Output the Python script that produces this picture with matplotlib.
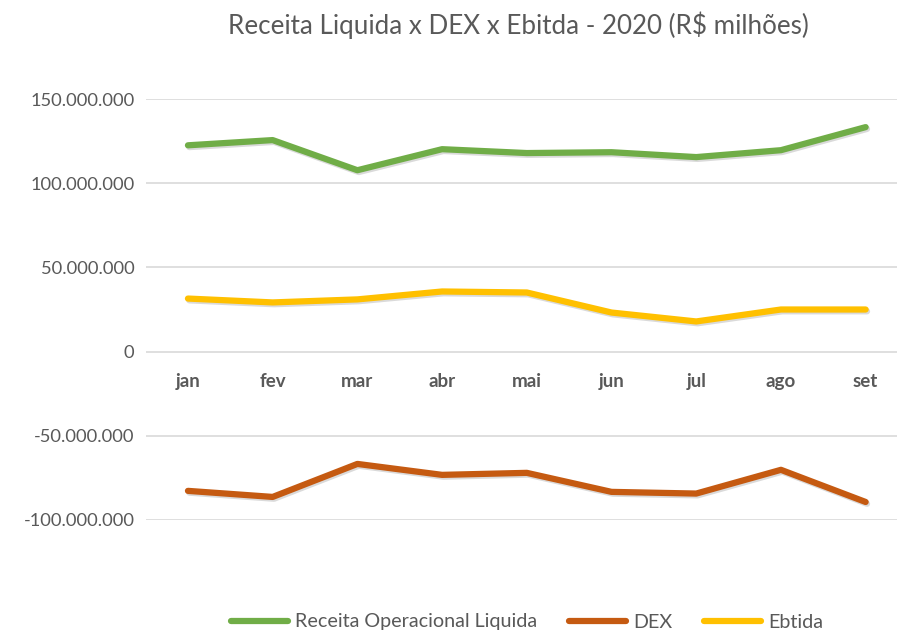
import matplotlib
matplotlib.use("Agg")
import matplotlib.pyplot as plt
import matplotlib.patheffects as pe
from matplotlib.lines import Line2D
from matplotlib.ticker import FuncFormatter

# dados (R$)
meses = ["jan", "fev", "mar", "abr", "mai", "jun", "jul", "ago", "set"]
receita = [122.5e6, 125.6e6, 107.7e6, 120.2e6, 117.9e6, 118.4e6, 115.5e6, 119.6e6, 133.3e6]
dex = [-82.7e6, -86.3e6, -66.7e6, -73.2e6, -72.0e6, -83.3e6, -84.3e6, -70.2e6, -89.3e6]
ebtida = [31.5e6, 29.2e6, 31.0e6, 35.7e6, 35.1e6, 23.2e6, 17.9e6, 25.0e6, 25.0e6]
nomes = ['Receita Operacional Liquida', 'DEX', 'Ebtida']
cores = ['#70AD47', '#C55A11', '#FFC000']

plt.rcParams['font.family'] = ['Lato', 'DejaVu Sans']
cinza = '#595959'

fig = plt.figure(figsize=(8.97, 6.34), dpi=100)
ax = fig.add_axes([145.6/897, 1-520/634, (908-145.6)/897, 421/634])

sombra = [pe.SimpleLineShadow(offset=(1.0, -1.3), alpha=0.18, shadow_color='#333333'), pe.Normal()]
x = range(len(meses))
for serie, cor in zip([receita, dex, ebtida], cores):
    ax.plot(x, serie, color=cor, lw=4.5, solid_capstyle='round', solid_joinstyle='round',
            path_effects=sombra, zorder=3)

ax.set_xlim(-0.5, len(meses)-0.5)
ax.set_ylim(-100e6, 150e6)
ax.set_yticks([-100e6, -50e6, 0, 50e6, 100e6, 150e6])
ax.yaxis.set_major_formatter(FuncFormatter(lambda v, p: f"{v:,.0f}".replace(",", ".")))
ax.tick_params(axis='y', length=0, pad=8, labelsize=13.2, labelcolor=cinza)
ax.set_xticks([])
ax.grid(axis='y', color='#d9d9d9', lw=1.2)
ax.set_axisbelow(True)
for s in ax.spines.values():
    s.set_visible(False)

for i, m in enumerate(meses):
    ax.annotate(m, (i, 0), xytext=(0, -30), textcoords='offset pixels', ha='center', va='center',
                fontsize=13.5, fontweight='bold', color=cinza)

fig.text(518/897, 1-25/634, "Receita Liquida x DEX x Ebitda - 2020 (R$ milhões)", ha='center', va='center',
         fontsize=18.7, color=cinza)

alcas = [Line2D([], [], color=c, lw=4.5, solid_capstyle='round') for c in cores]
fig.legend(alcas, nomes, loc='center', bbox_to_anchor=(527/897, 1-622/634), ncol=3, frameon=False,
           fontsize=14.2, labelcolor=cinza, handlelength=2.9, handletextpad=0.35, columnspacing=1.6)

fig.savefig("out.png", dpi=100)
